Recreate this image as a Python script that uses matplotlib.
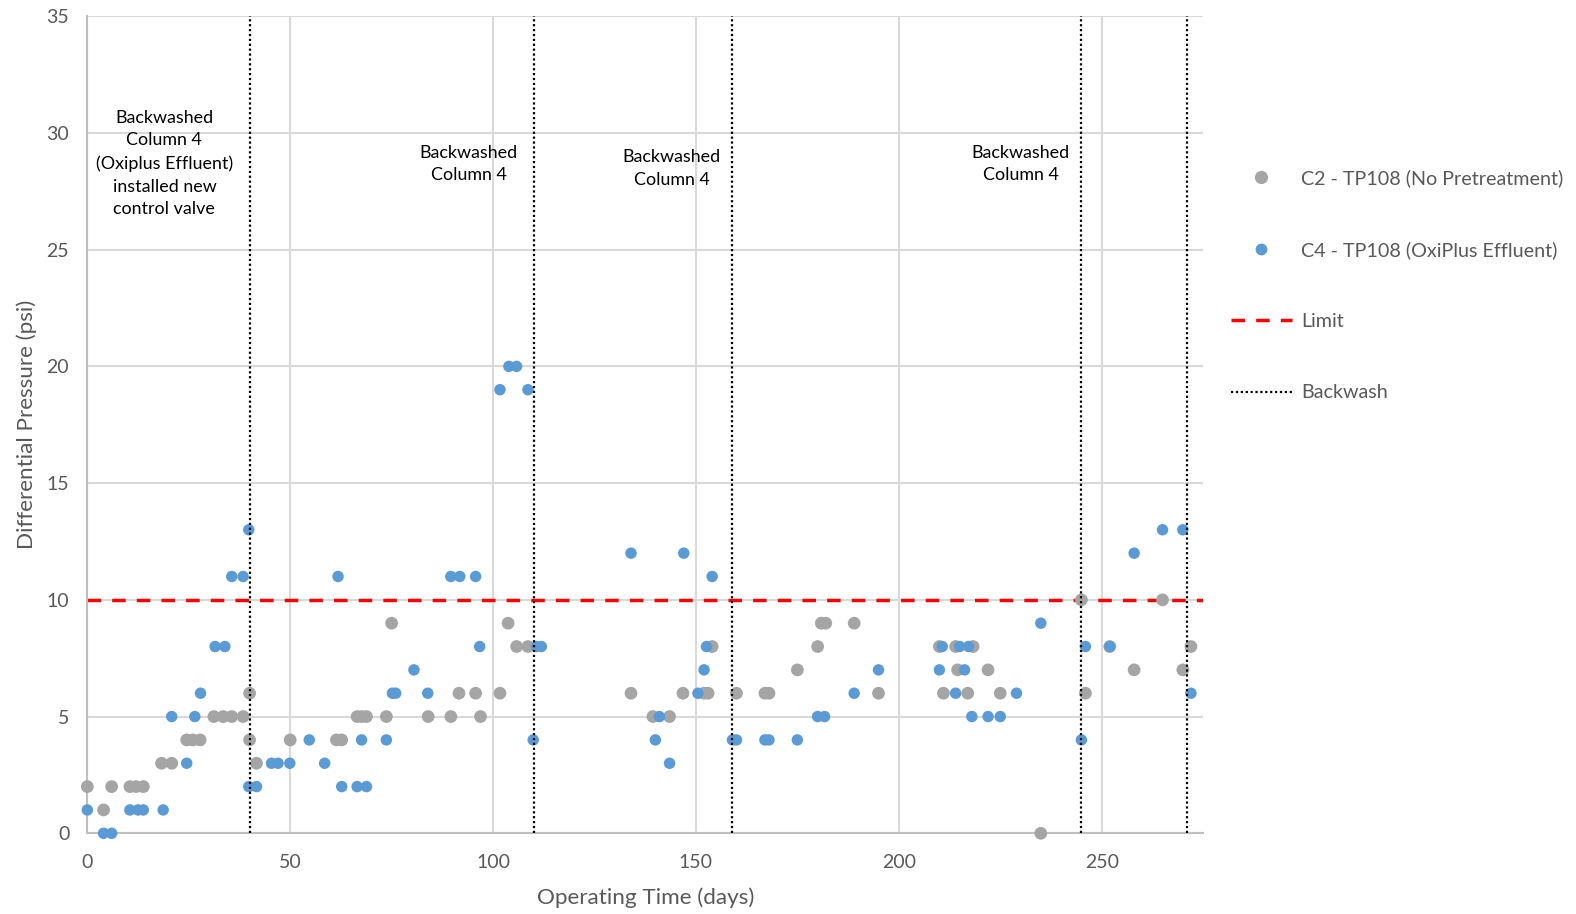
import matplotlib.pyplot as plt
from matplotlib.lines import Line2D

plt.rcParams['font.family'] = ['Lato', 'DejaVu Sans']

# C2 - TP108 (No Pretreatment)
c2_days = [0, 4, 6, 10.5, 12, 13.8, 18.3, 20.8, 24.5, 26, 27.8, 31.2, 33.5, 35.6, 38.4,
           40, 40, 41.7, 50, 61.4, 62.7, 66.5, 67.6, 68.8, 73.7, 75, 84, 89.6, 91.6, 95.7,
           96.9, 101.7, 103.7, 105.8, 108.6, 134, 139.4, 143.5, 146.8, 152, 153, 154, 160,
           167, 168, 175, 180, 180.9, 182, 189, 195, 210, 211, 214, 214.5, 217, 218.3, 222,
           225, 235, 245, 246, 252, 258, 265, 270, 272]
c2_dp = [2, 1, 2, 2, 2, 2, 3, 3, 4, 4, 4, 5, 5, 5, 5,
         6, 4, 3, 4, 4, 4, 5, 5, 5, 5, 9, 5, 5, 6, 6,
         5, 6, 9, 8, 8, 6, 5, 5, 6, 6, 6, 8, 6,
         6, 6, 7, 8, 9, 9, 9, 6, 8, 6, 8, 7, 6, 8, 7,
         6, 0, 10, 6, 8, 7, 10, 7, 8]

# C4 - TP108 (OxiPlus Effluent)
c4_days = [0, 4, 6, 10.5, 12.5, 13.8, 18.7, 20.8, 24.5, 26.5, 27.9, 31.5, 33.9, 35.6, 38.4,
           39.8, 39.8, 41.7, 45.4, 47, 49.9, 54.7, 58.5, 61.8, 62.7, 66.5, 67.6, 68.8, 73.7,
           75.2, 76, 80.5, 83.9, 89.6, 91.8, 95.7, 96.7, 101.7, 103.9, 105.8, 108.6, 109.9,
           110.7, 111.9, 134, 140, 141, 143.5, 147, 150.5, 152, 152.6, 154, 159, 160, 167,
           168, 175, 180, 181.7, 189, 195, 210, 210.7, 214, 215, 216.2, 217.2, 218, 222, 225,
           229, 235, 245, 246, 252, 258, 265, 270, 272]
c4_dp = [1, 0, 0, 1, 1, 1, 1, 5, 3, 5, 6, 8, 8, 11, 11,
         13, 2, 2, 3, 3, 3, 4, 3, 11, 2, 2, 4, 2, 4,
         6, 6, 7, 6, 11, 11, 11, 8, 19, 20, 20, 19, 4,
         8, 8, 12, 4, 5, 3, 12, 6, 7, 8, 11, 4, 4, 4,
         4, 4, 5, 5, 6, 7, 7, 8, 6, 8, 7, 8, 5, 5, 5,
         6, 9, 4, 8, 8, 12, 13, 13, 6]

limit = 10
backwash_days = [40, 110, 159, 245, 271]

notes = [
    (19, 31.0, "Backwashed\nColumn 4\n(Oxiplus Effluent)\ninstalled new\ncontrol valve"),
    (94, 29.5, "Backwashed\nColumn 4"),
    (144, 29.3, "Backwashed\nColumn 4"),
    (230, 29.5, "Backwashed\nColumn 4"),
]

gray = '#A5A5A5'
blue = '#5B9BD5'
txt = '#595959'

fig = plt.figure(figsize=(15.76, 9.14), dpi=100)
ax = fig.add_axes([0.0554, 0.0883, 0.708, 0.894])

ax.set_xlim(0, 275)
ax.set_ylim(0, 35)
ax.set_xticks([0, 50, 100, 150, 200, 250])
ax.set_yticks(range(0, 36, 5))
ax.grid(True, color='#D9D9D9', linewidth=1.5, zorder=0)
ax.set_axisbelow(True)
for s in ['top', 'right']:
    ax.spines[s].set_visible(False)
for s in ['left', 'bottom']:
    ax.spines[s].set_color('#BFBFBF')
    ax.spines[s].set_linewidth(1.5)
ax.tick_params(length=0, labelsize=14, labelcolor=txt)
ax.tick_params(axis='x', pad=15)
ax.tick_params(axis='y', pad=13)

ax.axhline(limit, color='#FF0000', linewidth=2.5, linestyle=(0, (3.9, 3.2)), zorder=2)
ax.scatter(c2_days, c2_dp, s=84, color=gray, edgecolors='none', zorder=3, clip_on=False)
ax.scatter(c4_days, c4_dp, s=68, color=blue, edgecolors='none', zorder=4, clip_on=False)
for d in backwash_days:
    ax.axvline(d, color='black', linewidth=1.6, linestyle=(0, (1, 1.2)), zorder=5)

for x, y, t in notes:
    ax.text(x, y, t, ha='center', va='top', fontsize=12.9, color='black',
            linespacing=1.52, zorder=6)

ax.set_xlabel("Operating Time (days)", fontsize=16.2, color=txt, labelpad=12)
ax.set_ylabel("Differential Pressure (psi)", fontsize=16.2, color=txt, labelpad=7)

handles = [
    Line2D([], [], marker='o', linestyle='none', color=gray, markersize=8.5),
    Line2D([], [], marker='o', linestyle='none', color=blue, markersize=7.5),
    Line2D([], [], color='#FF0000', linewidth=2.5, linestyle=(0, (3.9, 3.2))),
    Line2D([], [], color='black', linewidth=1.6, linestyle=(0, (1, 1.2))),
]
labels = ["C2 - TP108 (No Pretreatment)", "C4 - TP108 (OxiPlus Effluent)", "Limit", "Backwash"]
leg = fig.legend(handles, labels, loc='center left', bbox_to_anchor=(0.781, 0.688),
                 frameon=False, fontsize=14.2, labelspacing=2.75, handlelength=3.1,
                 handletextpad=0.45, borderpad=0, borderaxespad=0)
for t in leg.get_texts():
    t.set_color(txt)

fig.savefig("out.png", dpi=100)
plt.close(fig)
